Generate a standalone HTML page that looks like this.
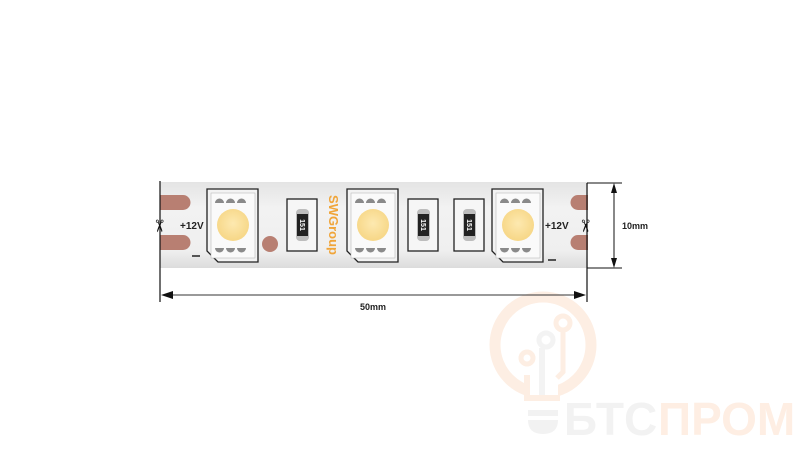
<!DOCTYPE html>
<html><head><meta charset="utf-8"><style>
body{margin:0;width:800px;height:450px;background:#fff;overflow:hidden;font-family:"Liberation Sans",sans-serif}
</style></head><body>
<svg width="800" height="450" viewBox="0 0 800 450" xmlns="http://www.w3.org/2000/svg" font-family="Liberation Sans, sans-serif">
<defs>
<linearGradient id="st" x1="0" y1="0" x2="0" y2="1">
<stop offset="0" stop-color="#e4e4e4"/><stop offset="0.3" stop-color="#f2f2f2"/><stop offset="0.8" stop-color="#efefef"/><stop offset="1" stop-color="#dcdcdc"/></linearGradient>
<radialGradient id="led" cx="0.5" cy="0.45" r="0.5"><stop offset="0" stop-color="#fde9b0"/><stop offset="1" stop-color="#f7d88a"/></radialGradient>
</defs>
<!-- watermark -->
<g>
<circle cx="543" cy="345" r="48" fill="none" stroke="#fdeee3" stroke-width="11"/>
<rect x="528" y="375" width="30" height="25" fill="#fff"/>
<path d="M527 375 V398 H560" fill="none" stroke="#fdeee3" stroke-width="6"/>
<line x1="542" y1="348" x2="542" y2="395" stroke="#f3f3f3" stroke-width="6"/>
<circle cx="546" cy="340" r="7" fill="none" stroke="#f3f3f3" stroke-width="5"/>
<circle cx="527" cy="358" r="6" fill="none" stroke="#fdeee3" stroke-width="5"/>
<path d="M563 328 V372 L557 378" fill="none" stroke="#fdeee3" stroke-width="5"/>
<circle cx="563" cy="323" r="7" fill="none" stroke="#fdeee3" stroke-width="5"/>
<rect x="528" y="410" width="30" height="6" fill="#f2f2f2"/>
<path d="M528 420 H558 Q558 434 543 434 Q528 434 528 420Z" fill="#f2f2f2"/>
<text x="564" y="435" font-size="46" font-weight="bold" fill="#f2f2f2">БТС</text>
<text x="658" y="435" font-size="46" font-weight="bold" fill="#feeee3">ПРОМ</text>
</g>
<!-- strip -->
<rect x="160" y="182" width="428" height="86" fill="url(#st)"/>
<g fill="#b87f72">
<path d="M160 195 H183 a7.5 7.5 0 0 1 0 15 H160Z"/>
<path d="M160 235 H183 a7.5 7.5 0 0 1 0 15 H160Z"/>
<path d="M588 195 H578 a7.5 7.5 0 0 0 0 15 H588Z"/>
<path d="M588 235 H578 a7.5 7.5 0 0 0 0 15 H588Z"/>
<circle cx="270" cy="244" r="8"/>
</g>
<g id="L">
<path d="M207 189 H258 V262 H218 L207 251Z" fill="#f3f3f3" stroke="#222" stroke-width="1.3"/>
<rect x="211" y="193" width="44" height="65" fill="#fafafa" stroke="#bbb" stroke-width="0.6"/>
<g fill="#8a8a8a"><path d="M215 203 a4.5 4.5 0 0 1 9 0Z"/><path d="M226 203 a4.5 4.5 0 0 1 9 0Z"/><path d="M237 203 a4.5 4.5 0 0 1 9 0Z"/>
<path d="M215 248 a4.5 4.5 0 0 0 9 0Z"/><path d="M226 248 a4.5 4.5 0 0 0 9 0Z"/><path d="M237 248 a4.5 4.5 0 0 0 9 0Z"/></g>
<circle cx="233" cy="225" r="16" fill="url(#led)"/>
</g>
<use href="#L" x="140"/>
<use href="#L" x="285"/>
<g id="R">
<rect x="287" y="199" width="30" height="52" fill="#f6f6f6" stroke="#222" stroke-width="1.3"/>
<rect x="296" y="209" width="13" height="32" rx="4" fill="#bdbdbd"/>
<rect x="297" y="214" width="11" height="22" fill="#222"/>
<text transform="translate(300,225) rotate(90)" font-size="7" fill="#fff" text-anchor="middle" font-weight="bold">151</text>
</g>
<use href="#R" x="121"/>
<use href="#R" x="167"/>
<text transform="translate(329,225) rotate(90)" font-size="13" fill="#f0a53a" text-anchor="middle" font-weight="bold">SWGroup</text>
<text x="180" y="229" font-size="10" font-weight="bold" fill="#222">+12V</text>
<text x="545" y="229" font-size="10" font-weight="bold" fill="#222">+12V</text>
<line x1="192" y1="256" x2="200" y2="256" stroke="#222" stroke-width="1.5"/>
<line x1="548" y1="260" x2="556" y2="260" stroke="#222" stroke-width="1.5"/>
<text transform="translate(159,226) rotate(90)" font-size="17" text-anchor="middle" dominant-baseline="central" fill="#111">✂</text>
<text transform="translate(585,226) rotate(90)" font-size="17" text-anchor="middle" dominant-baseline="central" fill="#111">✂</text>
<line x1="160" y1="181" x2="160" y2="302" stroke="#111" stroke-width="1.2"/>
<line x1="587" y1="183" x2="587" y2="302" stroke="#111" stroke-width="1.2"/>
<line x1="587" y1="183" x2="622" y2="183" stroke="#111" stroke-width="1"/>
<line x1="587" y1="268" x2="622" y2="268" stroke="#111" stroke-width="1"/>
<line x1="614" y1="190" x2="614" y2="261" stroke="#111" stroke-width="1"/>
<path d="M614 183 l-3 10 h6Z M614 268 l-3 -10 h6Z" fill="#111"/>
<line x1="170" y1="295" x2="578" y2="295" stroke="#333" stroke-width="1"/>
<path d="M161 295 l12 -4 v8Z M586 295 l-12 -4 v8Z" fill="#111"/>
<text x="622" y="229" font-size="9" font-weight="bold" fill="#222">10mm</text>
<text x="360" y="310" font-size="9" font-weight="bold" fill="#222">50mm</text>
</svg>
</body></html>
